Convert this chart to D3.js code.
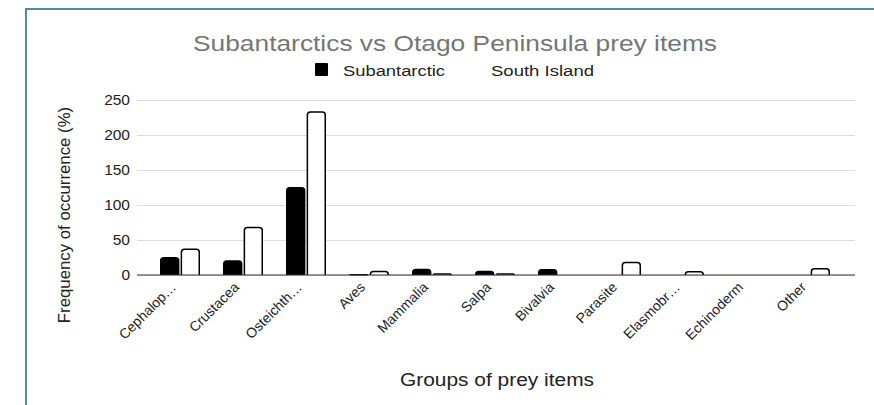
<!DOCTYPE html>
<html>
<head>
<meta charset="utf-8">
<script src="https://cdn.jsdelivr.net/npm/d3@7"></script>
<style>
  body { margin: 0; background: #fff; }
  svg { display: block; font-family: "Liberation Sans", Arial, sans-serif; }
</style>
</head>
<body>
<svg id="chart" width="874" height="405"></svg>
<script>
const categories = ["Cephalopoda", "Crustacea", "Osteichthyes", "Aves", "Mammalia", "Salpa", "Bivalvia", "Parasite", "Elasmobranchii", "Echinoderm", "Other"];
const tickLabels = ["Cephalop…", "Crustacea", "Osteichth…", "Aves", "Mammalia", "Salpa", "Bivalvia", "Parasite", "Elasmobr…", "Echinoderm", "Other"];
const seriesNames = ["Subantarctic", "South Island"];
const subantarctic = [24.7, 20, 124.7, 0.5, 8, 5, 7.5, 0, 0, 0, 0];
const southIsland = [36.7, 68, 233, 5, 1.5, 1.5, 0, 18, 4.5, 0, 9];
const yTicks = [0, 50, 100, 150, 200, 250];

const svg = d3.select("#chart");
const W = 874, H = 405;

// frame
svg.append("line").attr("x1", 26).attr("x2", W).attr("y1", 9).attr("y2", 9)
  .attr("stroke", "#4f8c9c").attr("stroke-width", 2);
svg.append("line").attr("x1", 26).attr("x2", 26).attr("y1", 8).attr("y2", H)
  .attr("stroke", "#4f8c9c").attr("stroke-width", 2);

const plot = { left: 137, right: 855, top: 100, bottom: 275 };
const y = d3.scaleLinear().domain([0, 250]).range([plot.bottom, plot.top]);
const x0 = d3.scaleBand().domain(categories).range([148.5, 841.5]).paddingInner(0).paddingOuter(0);
const x1 = d3.scaleBand().domain(seriesNames).range([0, 40]).paddingInner(0.06);

// gridlines
const yAxis = d3.axisLeft(y).tickValues(yTicks).tickSize(-(plot.right - plot.left)).tickPadding(7);
const gy = svg.append("g").attr("transform", `translate(${plot.left},0)`).call(yAxis);
gy.select(".domain").remove();
gy.selectAll(".tick line").attr("stroke", "#dcdcdc").attr("stroke-width", 1);
gy.selectAll(".tick text").attr("font-size", 15.5).attr("fill", "#222").attr("font-family", "Liberation Sans, Arial, sans-serif");

const series = [
  { name: "Subantarctic", values: subantarctic, fill: "#000" },
  { name: "South Island", values: southIsland, fill: "#fff" }
];

function topRoundedRect(x, yTop, w, h, r) {
  r = Math.min(r, h, w / 2);
  const yb = yTop + h;
  return `M${x},${yb}V${yTop + r}Q${x},${yTop} ${x + r},${yTop}H${x + w - r}Q${x + w},${yTop} ${x + w},${yTop + r}V${yb}`;
}

const groups = svg.append("g").selectAll("g").data(categories).join("g")
  .attr("transform", d => `translate(${x0(d) + x0.bandwidth() / 2 - 20},0)`);

series.forEach(s => {
  groups.each(function (c, i) {
    const v = s.values[i];
    if (v <= 0) return;
    const yt = y(v), h = plot.bottom - yt;
    d3.select(this).append("path")
      .attr("d", topRoundedRect(x1(s.name) + 0.75, yt, x1.bandwidth() - 1.5, h, 3))
      .attr("fill", s.fill)
      .attr("stroke", "#000")
      .attr("stroke-width", 1.5);
  });
});

// zero baseline
svg.append("line").attr("x1", plot.left).attr("x2", plot.right)
  .attr("y1", y(0)).attr("y2", y(0)).attr("stroke", "#333").attr("stroke-width", 1.2);

// x labels
const xl = svg.append("g");
categories.forEach((c, i) => {
  const cx = x0(c) + x0.bandwidth() / 2;
  xl.append("text")
    .attr("transform", `translate(${cx - 3},${plot.bottom + 13}) rotate(-45)`)
    .attr("text-anchor", "end")
    .attr("font-size", 14)
    .attr("fill", "#222")
    .text(tickLabels[i]);
});

// title
svg.append("text").attr("x", 455).attr("y", 51).attr("text-anchor", "middle")
  .attr("font-size", 22.5).attr("fill", "#757575")
  .attr("textLength", 524).attr("lengthAdjust", "spacingAndGlyphs")
  .text("Subantarctics vs Otago Peninsula prey items");

// legend
const lg = svg.append("g");
lg.append("rect").attr("x", 315).attr("y", 63).attr("width", 13).attr("height", 13).attr("fill", "#000").attr("rx", 1);
lg.append("text").attr("x", 343).attr("y", 76).attr("font-size", 15.5).attr("fill", "#222")
  .attr("textLength", 102).attr("lengthAdjust", "spacingAndGlyphs").text(seriesNames[0]);
lg.append("rect").attr("x", 466).attr("y", 63).attr("width", 13).attr("height", 13).attr("fill", "#fff");
lg.append("text").attr("x", 491).attr("y", 76).attr("font-size", 15.5).attr("fill", "#222")
  .attr("textLength", 103).attr("lengthAdjust", "spacingAndGlyphs").text(seriesNames[1]);

// axis titles
svg.append("text")
  .attr("transform", `translate(70,215) rotate(-90)`)
  .attr("text-anchor", "middle").attr("font-size", 16.8).attr("fill", "#222")
  .text("Frequency of occurrence (%)");
svg.append("text").attr("x", 497).attr("y", 386).attr("text-anchor", "middle")
  .attr("font-size", 17.5).attr("fill", "#222")
  .attr("textLength", 194).attr("lengthAdjust", "spacingAndGlyphs")
  .text("Groups of prey items");
</script>
</body>
</html>
